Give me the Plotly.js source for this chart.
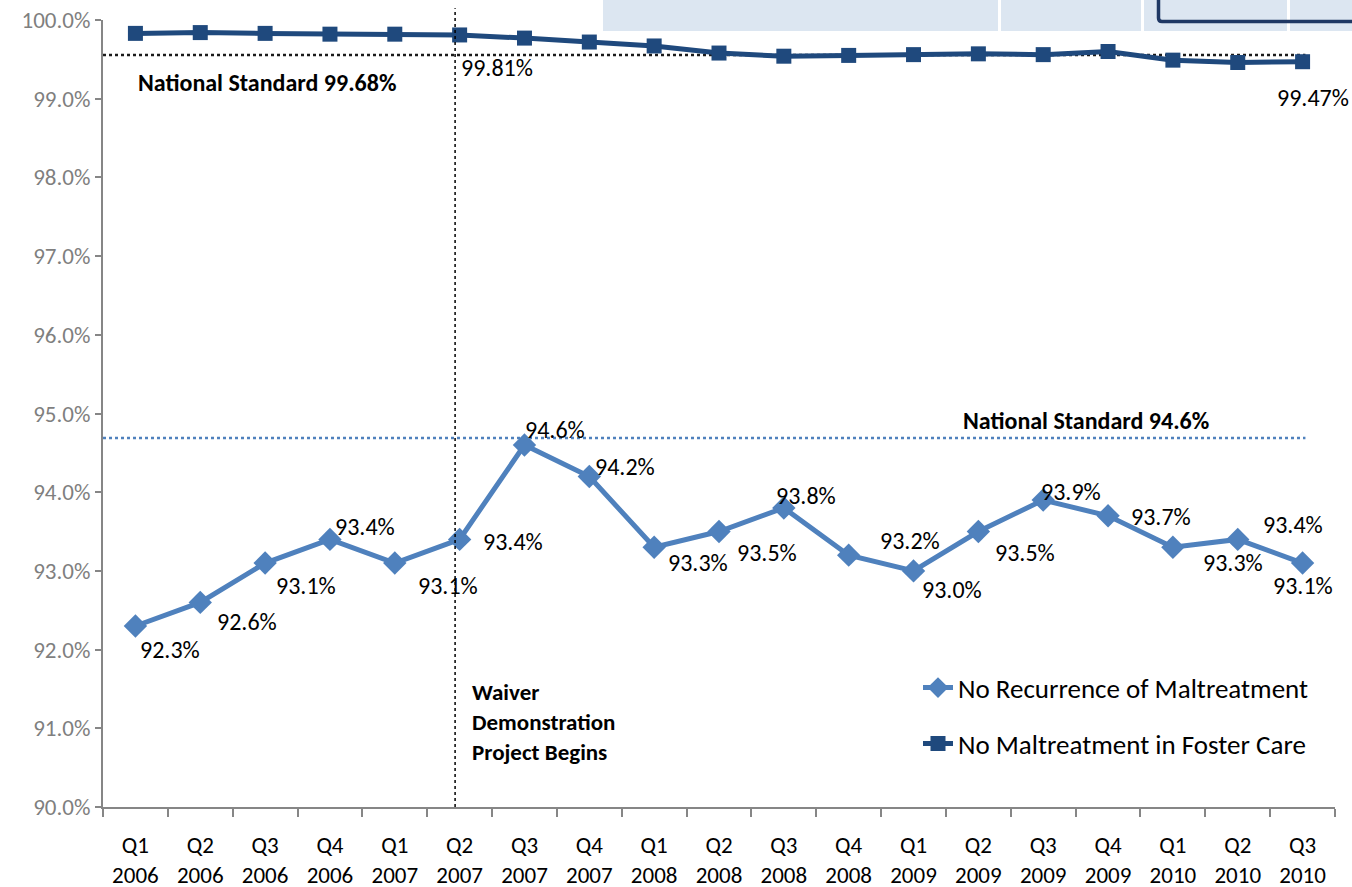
<!DOCTYPE html>
<html><head><meta charset="utf-8">
<script src="https://cdn.plot.ly/plotly-3.0.1.min.js"></script>
<style>html,body{margin:0;padding:0;background:#fff}#c{width:1352px;height:887px}</style>
</head><body><div id="c"></div>
<script>
const quarters = ["Q1","Q2","Q3","Q4","Q1","Q2","Q3","Q4","Q1","Q2","Q3","Q4","Q1","Q2","Q3","Q4","Q1","Q2","Q3"];
const years = ["2006","2006","2006","2006","2007","2007","2007","2007","2008","2008","2008","2008","2009","2009","2009","2009","2010","2010","2010"];
const recurrence = [92.3,92.6,93.1,93.4,93.1,93.4,94.6,94.2,93.3,93.5,93.8,93.2,93.0,93.5,93.9,93.7,93.3,93.4,93.1];
const fosterCare = [99.83,99.84,99.83,99.82,99.82,99.81,99.77,99.72,99.67,99.58,99.54,99.55,99.56,99.57,99.56,99.60,99.49,99.46,99.47];
const fosterLabelIdx = [5,18];
const stdRecurrence = 94.69;   // drawn position of "National Standard 94.6%"
const stdFoster = 99.555;      // drawn position of "National Standard 99.68%"
const waiverPos = 4.93;        // category index position of waiver line

const cats = quarters.map((q,i)=>q+"<br>"+years[i]);
const FONT = "Carlito, Calibri, 'Open Sans', 'Liberation Sans', sans-serif";

// label offsets in px (dx right, dy down)
const recOff = [[35,24],[47,19],[41,22],[35,-13],[53,22],[53,2],[31,-15],[36,-10],[44,15],[48,21],[22,-12],[61,-15],[38,19],[47,21],[28,-9],[53,1],[60,15],[55,-15],[0,22]];
const fosOff = {5:[37,33],18:[10,36]};

const annotations = [];
recurrence.forEach((v,i)=>{
  annotations.push({x:i, y:v, xref:'x', yref:'y', text:v.toFixed(1)+'%', showarrow:false,
    xshift:recOff[i][0], yshift:-recOff[i][1], font:{family:FONT,size:24,color:'#000'}});
});
fosterLabelIdx.forEach(i=>{
  annotations.push({x:i, y:fosterCare[i], xref:'x', yref:'y', text:fosterCare[i].toFixed(2)+'%', showarrow:false,
    xshift:fosOff[i][0], yshift:-fosOff[i][1], font:{family:FONT,size:24,color:'#000'}});
});
annotations.push({x:(136-103)/1232, y:stdFoster, xref:'paper', yref:'y', xanchor:'left', yanchor:'middle', yshift:-27,
  text:'<b>National Standard 99.68%</b>', showarrow:false, font:{family:FONT,size:24,color:'#000'}});
annotations.push({x:(961-103)/1232, y:stdRecurrence, xref:'paper', yref:'y', xanchor:'left', yanchor:'middle', yshift:17,
  text:'<b>National Standard 94.6%</b>', showarrow:false, font:{family:FONT,size:24,color:'#000'}});
annotations.push({x:(470-103)/1232, y:91.6, xref:'paper', yref:'y', xanchor:'left', yanchor:'top', align:'left', yshift:5,
  text:'<b>Waiver<br>Demonstration<br>Project Begins</b>', showarrow:false, font:{family:FONT,size:23,color:'#000'}});

const shapes = [
  {type:'line', xref:'paper', yref:'y', x0:0, x1:0.976, y0:stdRecurrence, y1:stdRecurrence, line:{color:'#4f81bd',width:2.5,dash:'dot'}},
  {type:'line', xref:'paper', yref:'y', x0:0, x1:0.976, y0:stdFoster, y1:stdFoster, line:{color:'#1b1b1b',width:2.5,dash:'dot'}, layer:'below'},
  {type:'line', xref:'x', yref:'paper', x0:waiverPos, x1:waiverPos, y0:0, y1:1.015, line:{color:'#000',width:1.5,dash:'dot'}},
  // decorative fragments at top-right
  {type:'rect', xref:'paper', yref:'paper', x0:(603-103)/1232, x1:(998-103)/1232, y0:(807-31)/787, y1:(807-0)/787, fillcolor:'#dce6f1', line:{width:0}, layer:'below'},
  {type:'rect', xref:'paper', yref:'paper', x0:(1001-103)/1232, x1:(1141-103)/1232, y0:(807-31)/787, y1:(807-0)/787, fillcolor:'#dce6f1', line:{width:0}, layer:'below'},
  {type:'rect', xref:'paper', yref:'paper', x0:(1144-103)/1232, x1:(1287-103)/1232, y0:(807-31)/787, y1:(807-0)/787, fillcolor:'#dce6f1', line:{width:0}, layer:'below'},
  {type:'rect', xref:'paper', yref:'paper', x0:(1290-103)/1232, x1:(1360-103)/1232, y0:(807-31)/787, y1:(807-0)/787, fillcolor:'#dce6f1', line:{width:0}, layer:'below'},
  {type:'path', xref:'paper', yref:'paper',
   path:'M '+((1158.5-103)/1232)+' '+((807+2)/787)+' L '+((1158.5-103)/1232)+' '+((807-18)/787)+' Q '+((1158.5-103)/1232)+' '+((807-21.5)/787)+' '+((1162-103)/1232)+' '+((807-21.5)/787)+' L '+((1360-103)/1232)+' '+((807-21.5)/787),
   line:{color:'#1f3864',width:3.5}}
];

const data = [
  {x:cats, y:recurrence, type:'scatter', mode:'lines+markers', name:'No Recurrence of Maltreatment',
   line:{color:'#4f81bd',width:5}, marker:{symbol:'diamond',size:18,color:'#4f81bd'}, legend:'legend', cliponaxis:false},
  {x:cats, y:fosterCare, type:'scatter', mode:'lines+markers', name:'No Maltreatment in Foster Care',
   line:{color:'#1f497d',width:5}, marker:{symbol:'square',size:15,color:'#1f497d'}, legend:'legend2', cliponaxis:false}
];

const layout = {
  width:1352, height:887,
  margin:{l:103,r:17,t:20,b:80},
  paper_bgcolor:'#fff', plot_bgcolor:'#fff',
  showlegend:true,
  legend:{x:(918-103)/1232, y:(807-688)/787, xanchor:'left', yanchor:'middle', bgcolor:'rgba(0,0,0,0)', font:{family:FONT,size:27,color:'#000'}},
  legend2:{x:(918-103)/1232, y:(807-744)/787, xanchor:'left', yanchor:'middle', bgcolor:'rgba(0,0,0,0)', font:{family:FONT,size:27,color:'#000'}},
  xaxis:{type:'category', showgrid:false, zeroline:false, showline:true, linecolor:'#868686', linewidth:2,
    ticks:'outside', ticklen:8, tickcolor:'#868686', tickwidth:2, tickson:'boundaries', ticklabelstandoff:16,
    tickfont:{family:FONT,size:23,color:'#000'}, range:[-0.5,18.5], fixedrange:true},
  yaxis:{range:[90,100], dtick:1, tickformat:'.1f', ticksuffix:'%', showgrid:false, zeroline:false,
    showline:true, linecolor:'#868686', linewidth:2, ticks:'outside', ticklen:6, tickcolor:'#868686', tickwidth:2,
    tickfont:{family:FONT,size:23,color:'#7f7f7f'}},
  shapes:shapes, annotations:annotations
};
Plotly.newPlot('c', data, layout, {displayModeBar:false, staticPlot:true});
</script></body></html>
